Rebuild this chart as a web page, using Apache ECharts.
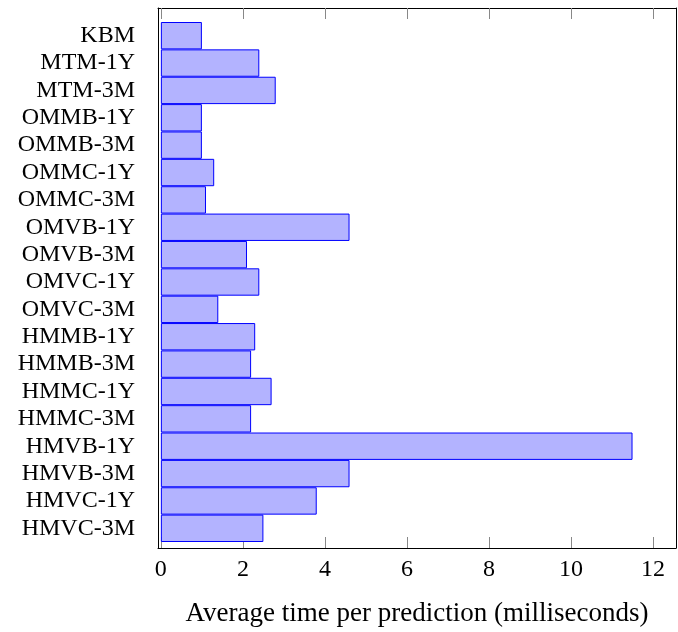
<!DOCTYPE html>
<html>
<head>
<meta charset="utf-8">
<script src="https://cdn.jsdelivr.net/npm/echarts@6/dist/echarts.min.js"></script>
<style>
  html, body { margin: 0; padding: 0; background: #fff; }
  #chart { width: 678px; height: 632px; }
</style>
</head>
<body>
<div id="chart"></div>
<script>
const categories = ['KBM', 'MTM-1Y', 'MTM-3M', 'OMMB-1Y', 'OMMB-3M', 'OMMC-1Y', 'OMMC-3M',
  'OMVB-1Y', 'OMVB-3M', 'OMVC-1Y', 'OMVC-3M', 'HMMB-1Y', 'HMMB-3M', 'HMMC-1Y', 'HMMC-3M',
  'HMVB-1Y', 'HMVB-3M', 'HMVC-1Y', 'HMVC-3M'];
const avgTimeMs = [1.0, 2.4, 2.8, 1.0, 1.0, 1.3, 1.1, 4.6, 2.1, 2.4, 1.4, 2.3, 2.2, 2.7, 2.2, 11.5, 4.6, 3.8, 2.5];
const xTicks = [0, 2, 4, 6, 8, 10, 12];
const xMin = -0.07, xMax = 12.56;

const FONT = 'Liberation Serif';
const chart = echarts.init(document.getElementById('chart'));

// frame grid (0) holds the box + x ticks, bar grid (1) is inset top/bottom like pgfplots
chart.setOption({
  animation: false,
  grid: [
    {left: 158, right: 2, top: 8, bottom: 77},
    {left: 158, right: 2, top: 22, bottom: 90}
  ],
  xAxis: [
    {
      gridIndex: 0, type: 'value', position: 'bottom', min: xMin, max: xMax,
      axisLine: {onZero: false, lineStyle: {color: '#000', width: 1}},
      axisTick: {inside: true, length: 11, lineStyle: {color: '#888'}, customValues: xTicks},
      axisLabel: {customValues: xTicks, margin: 10, color: '#000', fontFamily: FONT, fontSize: 24},
      splitLine: {show: false},
      name: 'Average time per prediction (milliseconds)',
      nameLocation: 'middle', nameGap: 52,
      nameTextStyle: {color: '#000', fontFamily: FONT, fontSize: 27}
    },
    {
      gridIndex: 0, type: 'value', position: 'top', min: xMin, max: xMax,
      axisLine: {onZero: false, lineStyle: {color: '#000', width: 1}},
      axisTick: {inside: true, length: 11, lineStyle: {color: '#888'}, customValues: xTicks},
      axisLabel: {show: false},
      splitLine: {show: false}
    },
    {
      gridIndex: 1, type: 'value', min: xMin, max: xMax, show: false
    }
  ],
  yAxis: [
    {
      gridIndex: 0, type: 'value', position: 'left', min: 0, max: 1,
      axisLine: {show: true, onZero: false, lineStyle: {color: '#000', width: 1}},
      axisTick: {show: false}, axisLabel: {show: false}, splitLine: {show: false}
    },
    {
      gridIndex: 0, type: 'value', position: 'right', min: 0, max: 1,
      axisLine: {show: true, onZero: false, lineStyle: {color: '#000', width: 1}},
      axisTick: {show: false}, axisLabel: {show: false}, splitLine: {show: false}
    },
    {
      gridIndex: 1, type: 'category', position: 'left', inverse: true,
      data: categories,
      axisLine: {show: false, onZero: false},
      axisTick: {alignWithLabel: true, length: 10, lineStyle: {color: '#888'}},
      axisLabel: {interval: 0, margin: 23, color: '#000', fontFamily: FONT, fontSize: 24},
      splitLine: {show: false}
    },
    {
      gridIndex: 1, type: 'category', position: 'right', inverse: true,
      data: categories,
      axisLine: {show: false, onZero: false},
      axisTick: {alignWithLabel: true, length: 4, lineStyle: {color: '#888'}},
      axisLabel: {show: false},
      splitLine: {show: false}
    }
  ],
  series: [{
    type: 'bar',
    xAxisIndex: 2,
    yAxisIndex: 2,
    data: avgTimeMs,
    barCategoryGap: '0%',
    itemStyle: {color: '#b3b3ff', borderColor: '#0000ff', borderWidth: 1}
  }]
});
</script>
</body>
</html>
